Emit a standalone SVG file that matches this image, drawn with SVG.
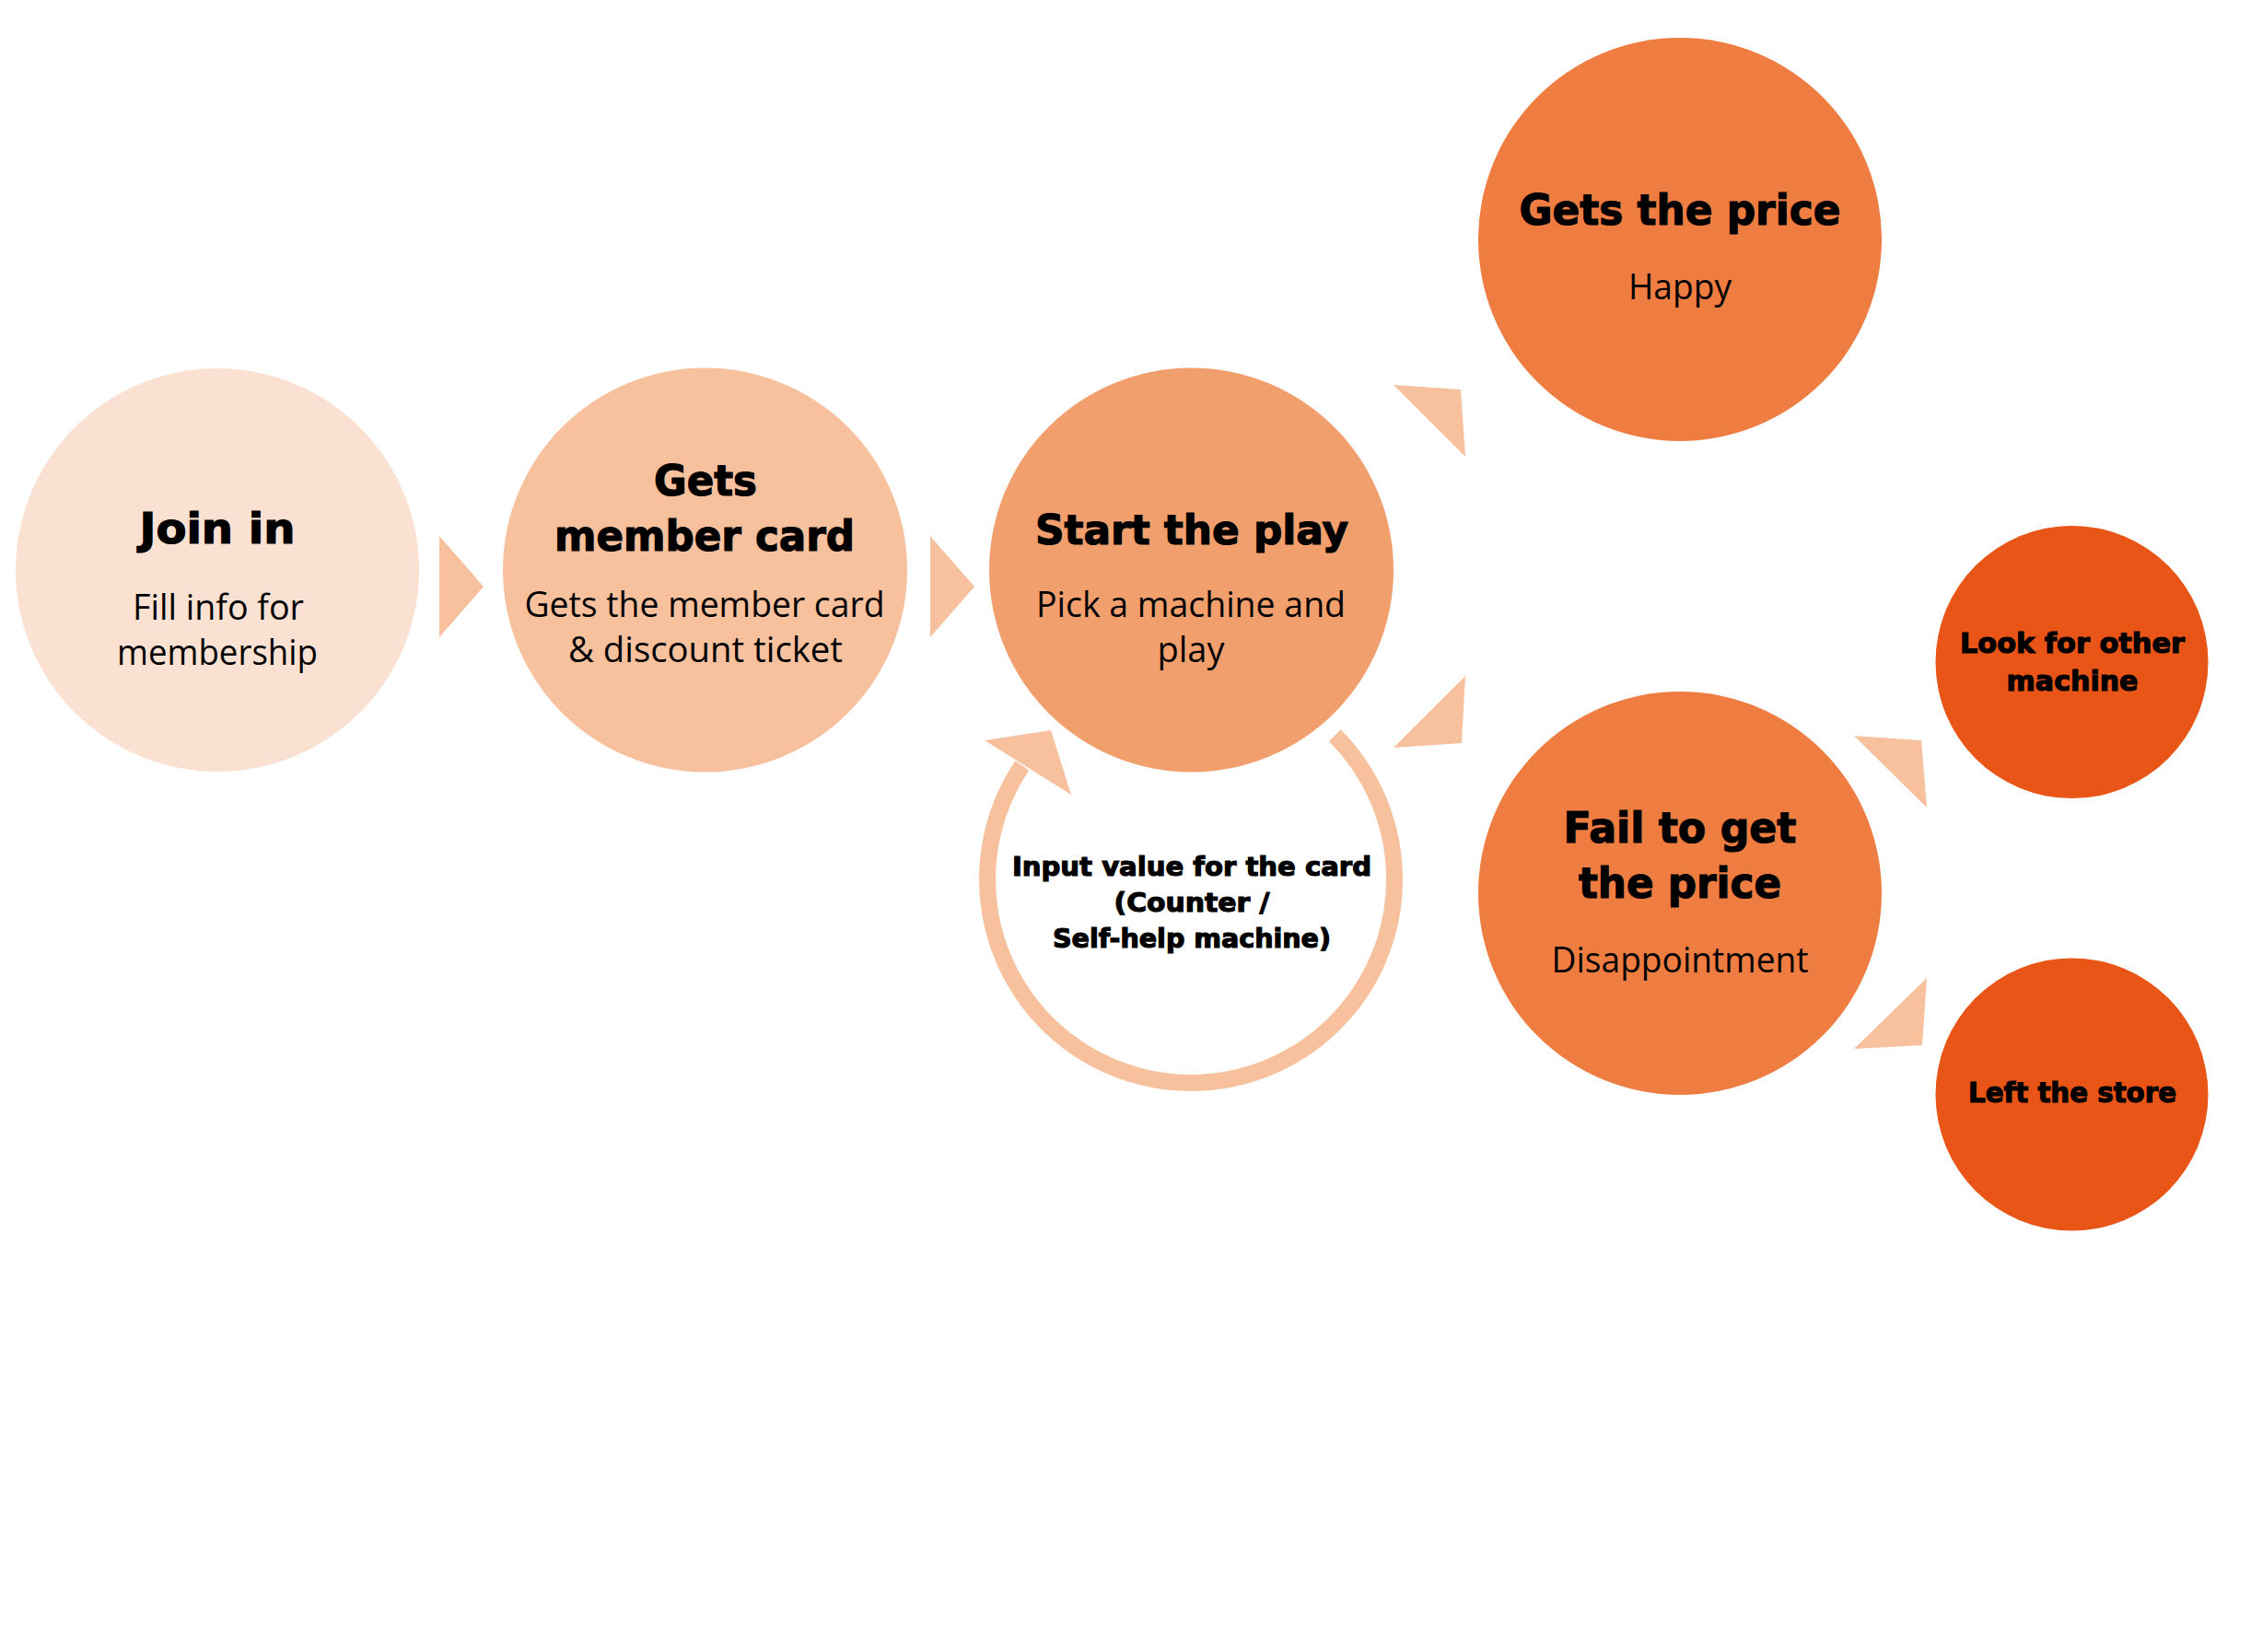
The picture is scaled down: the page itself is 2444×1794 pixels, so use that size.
<svg xmlns="http://www.w3.org/2000/svg" width="2444" height="1794" viewBox="0 0 2444 1794">
<style>
.t{font-family:"DejaVu Sans","Verdana",sans-serif;font-weight:bold;fill:#000;stroke:#000;stroke-width:1.2;text-anchor:middle}
.b{font-family:"Open Sans","Noto Sans",sans-serif;font-weight:400;fill:#000;text-anchor:middle}
.arr{fill:#F8C19E}
</style>
<rect width="2444" height="1794" fill="#ffffff"/>
<g id="connectors">
<polygon class="arr" points="477,582 525,637 477,692"/>
<polygon class="arr" points="1010,582 1058,637 1010,692"/>
<polygon class="arr" points="1513,418 1586,423 1591,496"/>
<polygon class="arr" points="1591,734 1587,807 1513,812"/>
<polygon class="arr" points="2013,799 2086,804 2092,877"/>
<polygon class="arr" points="2092,1062 2087,1135 2013,1139"/>
</g>
<g id="loop">
<path d="M1449.3,798.7 A221,221 0 1 1 1109.8,831.4" fill="none" stroke="#F8C19E" stroke-width="18"/>
<polygon class="arr" points="1069,804 1141,793 1163,863"/>
<text class="t" x="1294" y="951" font-size="29" textLength="390" lengthAdjust="spacingAndGlyphs">Input value for the card</text>
<text class="t" x="1294" y="990" font-size="29" textLength="169" lengthAdjust="spacingAndGlyphs">(Counter /</text>
<text class="t" x="1294" y="1029" font-size="29" textLength="302" lengthAdjust="spacingAndGlyphs">Self-help machine)</text>
</g>
<g id="join-in">
<circle cx="236" cy="619" r="219" fill="#FBE1D1"/>
<text class="t" x="236" y="590" font-size="46" textLength="169" lengthAdjust="spacingAndGlyphs">Join in</text>
<text class="b" x="237" y="673" font-size="38" textLength="186" lengthAdjust="spacingAndGlyphs">Fill info for</text>
<text class="b" x="236" y="722" font-size="38" textLength="218" lengthAdjust="spacingAndGlyphs">membership</text>
</g>
<g id="member-card">
<circle cx="765.5" cy="619" r="219.5" fill="#F8C19E"/>
<text class="t" x="766" y="538" font-size="46" textLength="112" lengthAdjust="spacingAndGlyphs">Gets</text>
<text class="t" x="765" y="598" font-size="46" textLength="326" lengthAdjust="spacingAndGlyphs">member card</text>
<text class="b" x="765" y="670" font-size="38" textLength="391" lengthAdjust="spacingAndGlyphs">Gets the member card</text>
<text class="b" x="766" y="719" font-size="38" textLength="298" lengthAdjust="spacingAndGlyphs">&amp; discount ticket</text>
</g>
<g id="start-play">
<circle cx="1293.5" cy="619" r="219.5" fill="#F29F6E"/>
<text class="t" x="1294" y="591" font-size="45" textLength="340" lengthAdjust="spacingAndGlyphs">Start the play</text>
<text class="b" x="1293" y="670" font-size="38" textLength="336" lengthAdjust="spacingAndGlyphs">Pick a machine and</text>
<text class="b" x="1293" y="719" font-size="38">play</text>
</g>
<g id="gets-price">
<circle cx="1824" cy="260" r="219" fill="#EF7D42"/>
<text class="t" x="1824" y="244" font-size="46" textLength="349" lengthAdjust="spacingAndGlyphs">Gets the price</text>
<text class="b" x="1824" y="325" font-size="38" textLength="112" lengthAdjust="spacingAndGlyphs">Happy</text>
</g>
<g id="fail-price">
<circle cx="1824" cy="970" r="219" fill="#EF7D42"/>
<text class="t" x="1824" y="915" font-size="46" textLength="253" lengthAdjust="spacingAndGlyphs">Fail to get</text>
<text class="t" x="1824" y="975" font-size="46" textLength="220" lengthAdjust="spacingAndGlyphs">the price</text>
<text class="b" x="1824" y="1056" font-size="38" textLength="279" lengthAdjust="spacingAndGlyphs">Disappointment</text>
</g>
<g id="look-other">
<circle cx="2249.5" cy="719" r="148" fill="#E85517"/>
<text class="t" x="2250" y="709" font-size="31" textLength="244" lengthAdjust="spacingAndGlyphs">Look for other</text>
<text class="t" x="2250" y="750" font-size="31" textLength="143" lengthAdjust="spacingAndGlyphs">machine</text>
</g>
<g id="left-store">
<circle cx="2249.5" cy="1188.5" r="148" fill="#E85517"/>
<text class="t" x="2250" y="1197" font-size="31" textLength="226" lengthAdjust="spacingAndGlyphs">Left the store</text>
</g>
</svg>
